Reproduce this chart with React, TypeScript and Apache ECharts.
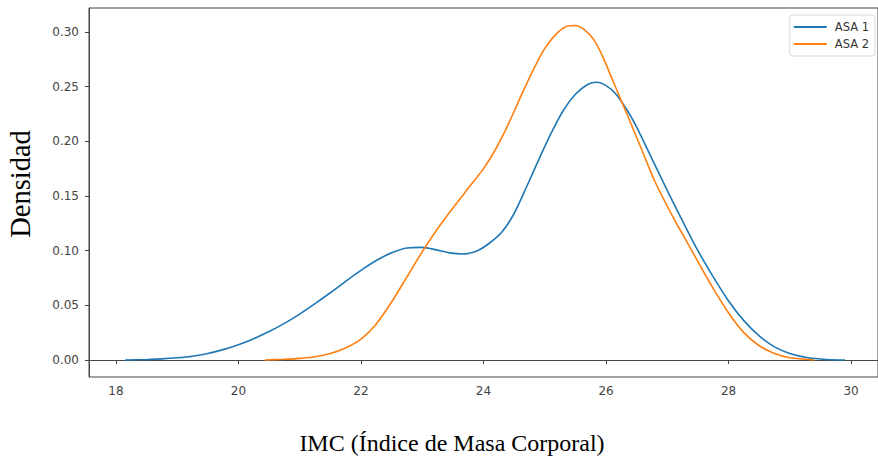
import React, { useEffect, useRef } from "react";
import * as echarts from "echarts";

const asa1X = [18.15, 18.5, 18.75, 19.0, 19.25, 19.5, 19.75, 20.0, 20.25, 20.5, 20.75, 21.0, 21.25, 21.5, 21.75, 22.0, 22.25, 22.5, 22.75, 23.0, 23.25, 23.45, 23.65, 23.9, 24.1, 24.3, 24.5, 24.7, 24.9, 25.1, 25.3, 25.5, 25.7, 25.85, 26.0, 26.15, 26.35, 26.5, 26.75, 27.0, 27.25, 27.5, 27.75, 28.0, 28.25, 28.5, 28.75, 29.0, 29.3, 29.6, 29.9];
const asa1Y = [0.0, 0.0005, 0.001, 0.002, 0.0035, 0.006, 0.0095, 0.014, 0.0195, 0.026, 0.0335, 0.042, 0.0515, 0.0615, 0.072, 0.082, 0.091, 0.098, 0.1025, 0.103, 0.1005, 0.098, 0.097, 0.1, 0.107, 0.117, 0.134, 0.158, 0.183, 0.207, 0.228, 0.243, 0.252, 0.254, 0.251, 0.244, 0.228, 0.213, 0.184, 0.155, 0.127, 0.1, 0.076, 0.054, 0.036, 0.022, 0.012, 0.006, 0.002, 0.0005, 0.0];

const asa2X = [20.43, 20.75, 21.0, 21.25, 21.5, 21.75, 22.0, 22.25, 22.5, 22.75, 23.0, 23.25, 23.5, 23.75, 24.0, 24.2, 24.4, 24.6, 24.8, 25.0, 25.2, 25.35, 25.5, 25.65, 25.8, 25.95, 26.1, 26.25, 26.4, 26.6, 26.8, 27.1, 27.4, 27.7, 28.0, 28.25, 28.5, 28.75, 29.0, 29.4];
const asa2Y = [0.0, 0.0007, 0.0015, 0.003, 0.006, 0.011, 0.019, 0.033, 0.053, 0.076, 0.099, 0.12, 0.139, 0.157, 0.175, 0.193, 0.215, 0.24, 0.264, 0.285, 0.299, 0.305, 0.306, 0.302, 0.293, 0.277, 0.257, 0.237, 0.217, 0.19, 0.163, 0.13, 0.1, 0.07, 0.043, 0.025, 0.013, 0.006, 0.002, 0.0];

const xTicks = [18, 20, 22, 24, 26, 28, 30];
const yTicks = [0, 0.05, 0.1, 0.15, 0.2, 0.25, 0.3];
const seriesNames = ["ASA 1", "ASA 2"];
const xTitle = "IMC (Índice de Masa Corporal)";
const yTitle = "Densidad";

export default function App() {
  const ref = useRef<HTMLDivElement>(null);
  useEffect(() => {
    if (!ref.current) return;
    const chart = echarts.init(ref.current, null, { renderer: "svg" });
    const axisColor = "#444";
    chart.setOption({
      animation: false,
      backgroundColor: "#fff",
      grid: {
        left: 89,
        top: 8,
        right: -3,
        bottom: 89,
        show: true,
        borderColor: axisColor,
        borderWidth: 1,
      },
      legend: {
        data: seriesNames,
        orient: "vertical",
        right: 3,
        top: 15,
        icon: "rect",
        itemWidth: 33,
        itemHeight: 2,
        itemGap: 5,
        padding: [6, 6, 6, 4],
        borderColor: "#d8d8d8",
        borderWidth: 1,
        borderRadius: 3,
        backgroundColor: "#fff",
        textStyle: { fontFamily: "DejaVu Sans", fontSize: 11.5, color: "#333", padding: [0, 0, 0, 3] },
      },
      xAxis: {
        type: "value",
        min: 17.561,
        max: 30.439,
        splitLine: { show: false },
        axisLine: { show: true, lineStyle: { color: axisColor } },
        axisTick: { show: true, inside: false, length: 4, customValues: xTicks, lineStyle: { color: axisColor } },
        axisLabel: {
          customValues: xTicks,
          formatter: (v: number) => String(Math.round(v)),
          fontFamily: "DejaVu Sans",
          fontSize: 12,
          color: "#444",
          margin: 8,
        },
      },
      yAxis: {
        type: "value",
        min: -0.01555,
        max: 0.32195,
        splitLine: { show: false },
        axisLine: { show: true, lineStyle: { color: axisColor } },
        axisTick: { show: true, inside: false, length: 4, customValues: yTicks, lineStyle: { color: axisColor } },
        axisLabel: {
          customValues: yTicks,
          formatter: (v: number) => v.toFixed(2),
          fontFamily: "DejaVu Sans",
          fontSize: 12,
          color: "#444",
          margin: 10,
        },
      },
      graphic: [
        {
          type: "text",
          x: 452,
          y: 443,
          style: {
            text: xTitle,
            fontFamily: "Liberation Serif",
            fontSize: 24,
            fill: "#000",
            textAlign: "center",
            textVerticalAlign: "middle",
          },
        },
        {
          type: "text",
          x: 20,
          y: 184,
          rotation: Math.PI / 2,
          style: {
            text: yTitle,
            fontFamily: "Liberation Serif",
            fontSize: 28.5,
            fill: "#000",
            textAlign: "center",
            textVerticalAlign: "middle",
          },
        },
      ],
      series: [
        {
          name: seriesNames[0],
          type: "line",
          smooth: 0.25,
          showSymbol: false,
          symbol: "none",
          lineStyle: { color: "#1f77b4", width: 1.6 },
          itemStyle: { color: "#1f77b4" },
          data: asa1X.map((x, i) => [x, asa1Y[i]]),
        },
        {
          name: seriesNames[1],
          type: "line",
          smooth: 0.25,
          showSymbol: false,
          symbol: "none",
          lineStyle: { color: "#ff7f0e", width: 1.6 },
          itemStyle: { color: "#ff7f0e" },
          data: asa2X.map((x, i) => [x, asa2Y[i]]),
        },
      ],
    });
    return () => chart.dispose();
  }, []);
  return (
    <div
      ref={ref}
      style={{ position: "absolute", left: 0, top: 0, width: 878, height: 466 }}
    />
  );
}
